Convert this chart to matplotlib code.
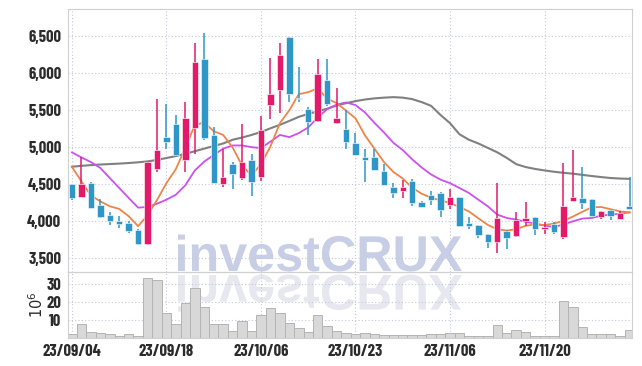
import numpy as np
import matplotlib
matplotlib.use("Agg")
import matplotlib.pyplot as plt
from matplotlib import font_manager
from matplotlib.font_manager import FontProperties
from matplotlib.textpath import TextPath
from matplotlib.patches import PathPatch
from matplotlib.transforms import Affine2D

# --- datos (60 sesiones, 23/09/04 .. 23/12/01) ---
opens = [4500, 4315, 4514, 4213, 4082, 4001, 3974, 3879, 3680, 4694,
         5126, 5302, 4815, 5248, 6189, 5162, 4500, 4771, 4582, 4815,
         4586, 5572, 5775, 6491, 5660, 5518, 5352, 5906, 5320, 5243,
         5054, 4865, 4865, 4676, 4451, 4402, 4541, 4248, 4348, 4375,
         4213, 4325, 3974, 3947, 3825, 3717, 3866, 3798, 3996, 4050,
         3883, 3951, 3775, 4262, 4311, 4298, 4051, 4140, 4019, 4194]
highs = [4500, 4856, 4520, 4298, 4118, 4059, 4001, 3893, 4798, 5649,
         5581, 5433, 5604, 6401, 6536, 5266, 4964, 4798, 5311, 4902,
         5415, 6199, 6401, 6491, 6085, 5537, 6185, 6185, 5802, 5500,
         5185, 4969, 4969, 4771, 4510, 4545, 4560, 4262, 4397, 4388,
         4429, 4325, 4046, 3947, 3825, 4505, 3879, 4122, 4248, 4050,
         3987, 3978, 4780, 4950, 4721, 4298, 4136, 4140, 4136, 4586]
lows = [4275, 4315, 4176, 4037, 3942, 3901, 3830, 3672, 3670, 4653,
        4969, 4856, 4663, 4902, 5091, 4514, 4451, 4424, 4555, 4333,
        4541, 5379, 5456, 5604, 5612, 5162, 5338, 5554, 5307, 4969,
        4883, 4523, 4680, 4478, 4307, 4307, 4194, 4181, 4213, 4046,
        4159, 3910, 3888, 3766, 3627, 3564, 3613, 3780, 3933, 3811,
        3825, 3825, 3753, 4262, 4159, 4068, 4024, 4014, 4019, 4153]
closes = [4302, 4500, 4176, 4055, 4001, 3960, 3857, 3690, 4798, 4956,
          5068, 4883, 5392, 6149, 5122, 4514, 4595, 4636, 4798, 4518,
          5230, 5717, 6243, 5717, 5645, 5329, 5987, 5577, 5392, 5058,
          4883, 4815, 4680, 4478, 4370, 4460, 4240, 4181, 4275, 4149,
          4321, 3929, 3929, 3802, 3708, 4041, 3771, 4010, 4041, 3883,
          3920, 3852, 4203, 4325, 4240, 4068, 4136, 4059, 4105, 4153]
# volumen en millones
volumes = [2.4, 7.8, 3.1, 2.5, 2.0, 1.3, 2.0, 1.3, 33.1, 32.0,
           14.0, 7.5, 19.1, 27.6, 17.3, 7.5, 7.5, 3.8, 9.6, 3.8,
           12.9, 16.7, 14.0, 8.5, 5.8, 3.1, 12.9, 6.4, 3.6, 2.5,
           2.0, 2.5, 2.0, 1.8, 1.5, 1.5, 1.8, 1.5, 2.0, 2.2,
           2.5, 2.5, 1.1, 1.1, 1.1, 7.0, 2.5, 4.2, 3.1, 1.2,
           1.1, 1.1, 20.2, 17.4, 5.9, 2.3, 2.0, 2.0, 1.2, 4.7]
# medias moviles
ma5 = [4726, 4532, 4340, 4262, 4194, 4159, 4060, 3925, 4075, 4280,
       4510, 4700, 4990, 5295, 5328, 5210, 5160, 4990, 4745, 4615,
       4765, 5005, 5320, 5495, 5712, 5740, 5790, 5655, 5590, 5490,
       5385, 5155, 4975, 4795, 4660, 4570, 4445, 4365, 4310, 4275,
       4240, 4185, 4125, 4032, 3942, 3885, 3865, 3885, 3930, 3950,
       3940, 3960, 4000, 4055, 4120, 4180, 4185, 4155, 4125, 4112]
ma10 = [4924, 4856, 4793, 4713, 4577, 4442, 4307, 4176, 4185, 4230,
        4284, 4352, 4480, 4680, 4800, 4890, 4975, 5018, 5018, 4995,
        4983, 5070, 5160, 5131, 5185, 5262, 5395, 5510, 5570, 5600,
        5565, 5465, 5325, 5195, 5055, 4955, 4830, 4720, 4625, 4555,
        4508, 4442, 4375, 4284, 4194, 4082, 4037, 4014, 3985, 3960,
        3933, 3915, 3947, 3991, 4028, 4037, 4068, 4082, 4095, 4113]
ma60 = [4730, 4742, 4752, 4760, 4766, 4772, 4780, 4790, 4802, 4822,
        4848, 4875, 4905, 4940, 4975, 5010, 5045, 5095, 5125, 5160,
        5200, 5250, 5297, 5350, 5405, 5445, 5480, 5515, 5558, 5590,
        5618, 5640, 5655, 5665, 5672, 5665, 5645, 5605, 5554, 5430,
        5320, 5170, 5095, 5045, 4985, 4925, 4850, 4765, 4726, 4700,
        4680, 4662, 4648, 4636, 4620, 4604, 4590, 4577, 4570, 4566]

tick_pos = [0, 10, 20, 30, 40, 50]
tick_labels = ["23/09/04", "23/09/18", "23/10/06", "23/10/23", "23/11/06", "23/11/20"]
price_ticks = [3500, 4000, 4500, 5000, 5500, 6000, 6500]
vol_ticks = [10, 20, 30]

RED = "#e31a6a"
BLUE = "#2f96c8"
GRID = "#c4c8dc"
TXT = "#2b2b2b"

names = {f.name for f in font_manager.fontManager.ttflist}
if "Barlow Condensed" in names:
    tick_fp = FontProperties(family="Barlow Condensed", weight=700, size=12)
else:
    tick_fp = FontProperties(family="DejaVu Sans", weight="bold", stretch="condensed", size=10)

W, H = 642, 366
fig = plt.figure(figsize=(W / 100, H / 100), dpi=100)
fig.patch.set_facecolor("white")

x0, x1 = 68.3, 632.3
ax = fig.add_axes([x0 / W, (H - 272) / H, (x1 - x0) / W, (272 - 9) / H])
axv = fig.add_axes([x0 / W, (H - 338) / H, (x1 - x0) / W, (338 - 272) / H], sharex=ax)

# marca de agua con reflejo
fp = FontProperties(family="Liberation Sans", weight="bold")
tp = TextPath((0, 0), "investCRUX", size=100, prop=fp)
bb = tp.get_extents()
s = 284 / bb.width
cx = 320
t_up = Affine2D().translate(-bb.x0 - bb.width / 2, 0).scale(s, s).translate(cx, H - 271)
t_dn = Affine2D().translate(-bb.x0 - bb.width / 2, 0).scale(s, -s).translate(cx, H - 275)
fig.add_artist(PathPatch(tp, transform=t_up, fc="#c7cee5", ec="none", zorder=-1))
fig.add_artist(PathPatch(tp, transform=t_dn, fc="#e7e7ef", ec="none", zorder=-1))

x = np.arange(len(closes))
o = np.array(opens)
c = np.array(closes)
up = c >= o
colors = np.where(up, RED, BLUE)

# lineas de medias
ax.plot(x, ma60, color="#808080", lw=1.5, zorder=2)
ax.plot(x, ma10, color="#cc50ee", lw=1.3, zorder=2)
ax.plot(x, ma5, color="#ee8548", lw=1.3, zorder=2)

# velas
ax.vlines(x, lows, highs, colors=colors, lw=1.1, zorder=3)
body_bottom = np.minimum(o, c)
body_h = np.maximum(np.abs(c - o), 12)
ax.bar(x, body_h, bottom=body_bottom, width=0.68, color=colors,
       edgecolor="white", linewidth=0.4, zorder=4)

# volumen
axv.bar(x, volumes, width=1.0, color="#d8d8d8", edgecolor="#b4b4b4", linewidth=0.7, zorder=2)

ax.set_xlim(-0.39, 59.29)
ax.set_ylim(3305, 6865)
axv.set_ylim(0, 36.5)

ax.set_yticks(price_ticks)
ax.set_yticklabels([f"{v:,}" for v in price_ticks])
axv.set_yticks(vol_ticks)
axv.set_xticks(tick_pos)
axv.set_xticklabels(tick_labels)

for a in (ax, axv):
    a.set_facecolor("none")
    a.set_axisbelow(True)
    a.grid(True, color=GRID, linestyle=(0, (1, 2)), linewidth=0.8)
    a.tick_params(length=0, colors=TXT)
    for lab in a.get_xticklabels() + a.get_yticklabels():
        lab.set_fontproperties(tick_fp)
    for sp in a.spines.values():
        sp.set_color("#d0d0d0")
        sp.set_linewidth(0.8)
ax.spines["bottom"].set_color("#b8b8b8")
ax.tick_params(axis="x", labelbottom=False)
ax.tick_params(axis="y", pad=5)
axv.tick_params(axis="y", pad=5)
axv.tick_params(axis="x", pad=4)

axv.set_ylabel(r"$\mathregular{10^6}$", fontsize=10.5, color=TXT)
axv.yaxis.set_label_coords(-0.04, 0.5)

fig.savefig("out.png", dpi=100)
